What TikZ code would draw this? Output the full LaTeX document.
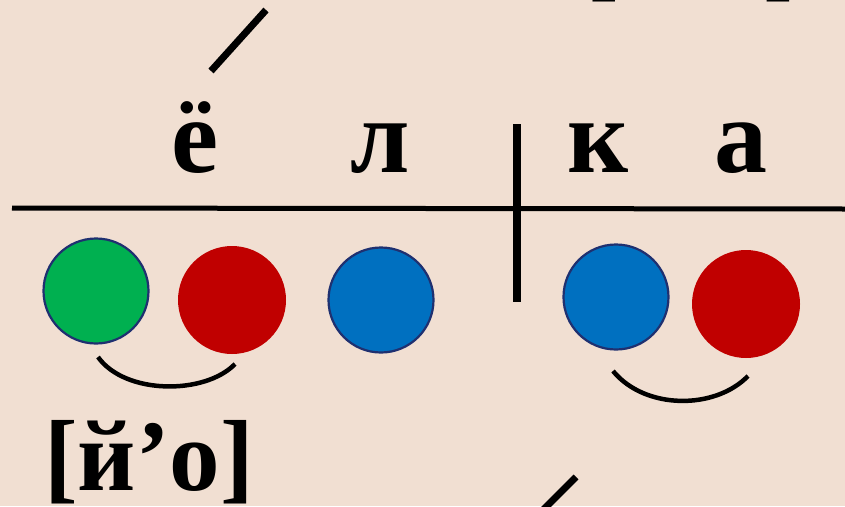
\documentclass[tikz,border=0pt]{standalone}
\usepackage{fontspec}
\setmainfont{Liberation Serif}
\definecolor{bg}{HTML}{F1DFD2}
\definecolor{cgreen}{HTML}{00B050}
\definecolor{cred}{HTML}{C00000}
\definecolor{cblue}{HTML}{0070C0}
\definecolor{outl}{HTML}{1F3070}
\begin{document}
\begin{tikzpicture}[x=1pt,y=-1pt,
  letter/.style={anchor=base,inner sep=0pt,font=\fontsize{106}{110}\selectfont\bfseries},
  trans/.style={anchor=base,inner sep=0pt,font=\fontsize{101}{105}\selectfont\bfseries},
  vowel/.style={circle,fill=cred,minimum size=108pt,inner sep=0pt},
  hard/.style={circle,fill=cblue,draw=outl,line width=2.2pt,minimum size=105pt,inner sep=0pt},
  soft/.style={circle,fill=cgreen,draw=outl,line width=2.2pt,minimum size=105pt,inner sep=0pt},
  rule/.style={line width=5pt,black},
  arcline/.style={line width=4.5pt,black},
  slash/.style={line width=7pt,black}]
\fill[bg] (0,0) rectangle (845,506);
\useasboundingbox (0,0) rectangle (845,506);
\clip (0,0) rectangle (845,506);
% letters
\node[letter] (yo) at (195,172) {ё};
\node[letter] (l) at (380,172) {л};
\node[letter] (k) at (598,172) {к};
\node[letter] (a) at (741,172) {а};
% lines
\coordinate (hl) at (12,208);
\coordinate (hr) at (845,209);
\draw[rule] (hl) -- (hr);
\coordinate (vt) at (517,124);
\coordinate (vb) at (517,302);
\draw[line width=8pt] (vt) -- (vb);
% circles
\node[soft] (c1) at (96,291) {};
\node[vowel] (c2) at (232,300) {};
\node[hard] (c3) at (381,300) {};
\node[hard] (c4) at (616,297) {};
\node[vowel] (c5) at (746,304) {};
% arcs
\coordinate (a1s) at (98,357);
\coordinate (a1e) at (235,364);
\draw[arcline] (a1s) .. controls (125,395) and (205,395) .. (a1e);
\coordinate (a2s) at (613,371);
\coordinate (a2e) at (748,376);
\draw[arcline] (a2s) .. controls (645,410) and (715,410) .. (a2e);
% transcription
\node[trans] (tr) at (149,490) {[й’о]};
% top partial brackets
\node[trans] (tb1) at (602,-11) {[};
\node[trans] (tb2) at (780,-11) {]};
% slashes
\coordinate (s1a) at (211,71);
\coordinate (s1b) at (266,10);
\draw[slash] (s1a) -- (s1b);
\coordinate (s2a) at (543,510);
\coordinate (s2b) at (576,477);
\draw[slash] (s2a) -- (s2b);
\end{tikzpicture}
\end{document}
